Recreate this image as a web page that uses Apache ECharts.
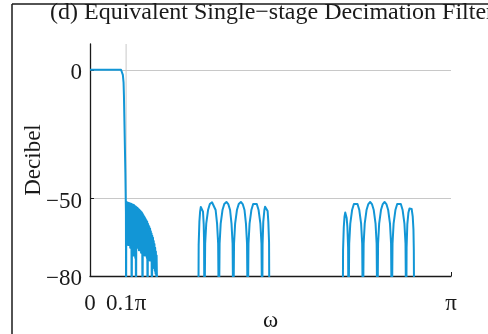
<!DOCTYPE html>
<html>
<head>
<meta charset="utf-8">
<script src="https://cdn.jsdelivr.net/npm/echarts@6/dist/echarts.min.js"></script>
<style>
  html, body { margin: 0; padding: 0; background: #ffffff; }
  #chart { width: 488px; height: 334px; }
</style>
</head>
<body>
<div id="chart"></div>
<script>
// Magnitude response (dB) of the equivalent single-stage decimation filter.
// Frequency is given in units of pi (0 .. 1); values below the -80 dB floor are clipped.

const xTicks = [0, 0.1, 1];
const xTickLabels = ['0', '0.1\u03c0', '\u03c0'];
const yTicks = [-80, -50, 0];
const yTickLabels = ['\u221280', '\u221250', '0'];

// passband and transition edge
const passband = [
  [0, 0], [0.086, 0], [0.089, -0.6], [0.091, -2], [0.093, -5], [0.094, -10],
  [0.096, -25], [0.098, -40], [0.0995, -55], [0.100, -100]
];

// densely rippling first stopband just above 0.1 pi (alternating crest / trough)
const rippleBand = [
  [0.1005, -51.4], [0.1015, -66], [0.1025, -51.4], [0.1035, -67], [0.1045, -51.5], [0.1055, -68],
  [0.1065, -51.6], [0.1075, -67], [0.1085, -51.7], [0.1095, -68], [0.1105, -51.8], [0.1115, -69],
  [0.1125, -51.9], [0.1135, -68], [0.1145, -52.0], [0.1155, -100], [0.1165, -52.2], [0.1175, -71],
  [0.1185, -52.3], [0.1195, -72], [0.1205, -52.4], [0.1215, -71], [0.1225, -52.6], [0.1235, -72],
  [0.1245, -52.8], [0.1255, -73], [0.1265, -53.0], [0.1275, -100], [0.1285, -53.2], [0.1295, -69],
  [0.1305, -53.5], [0.1315, -68], [0.1325, -53.7], [0.1335, -69], [0.1345, -54.0], [0.1355, -70],
  [0.1365, -54.3], [0.1375, -69], [0.1385, -54.6], [0.1395, -70], [0.1405, -54.9], [0.1415, -71],
  [0.1425, -55.2], [0.1435, -70], [0.1445, -55.6], [0.1455, -100], [0.1465, -56.0], [0.1475, -70],
  [0.1485, -56.5], [0.1495, -71], [0.1505, -57.0], [0.1515, -72], [0.1525, -57.5], [0.1535, -71],
  [0.1545, -58.0], [0.1555, -72], [0.1565, -58.5], [0.1575, -73], [0.1585, -59.0], [0.1595, -100],
  [0.1605, -59.7], [0.1615, -72], [0.1625, -60.4], [0.1635, -73], [0.1645, -61.0], [0.1655, -74],
  [0.1665, -61.7], [0.1675, -73], [0.1685, -62.6], [0.1695, -74], [0.1705, -63.5], [0.1715, -100],
  [0.1725, -64.4], [0.1735, -75], [0.1745, -65.2], [0.1755, -76], [0.1765, -66.4], [0.1775, -77],
  [0.1785, -67.6], [0.1795, -78], [0.1805, -69.0], [0.1815, -79], [0.1825, -70.5], [0.1835, -80],
  [0.1845, -72.0], [0.1855, -82], [0.1880, -100]
];

// first group of aliasing lobes
const lobesLow = [
  [0.300, -100], [0.301, -68], [0.303, -59], [0.305, -55], [0.307, -53.2], [0.309, -52.7],
  [0.311, -53.1], [0.313, -55], [0.315, -60], [0.316, -67],
  [0.317, -100], [0.319, -67.5], [0.322, -59.7], [0.327, -54.4], [0.332, -52.1], [0.338, -51.4],
  [0.343, -52.1], [0.348, -54.4], [0.352, -59.7], [0.355, -67.5],
  [0.357, -100], [0.359, -67.5], [0.362, -59.7], [0.367, -54.4], [0.372, -52.1], [0.378, -51.3],
  [0.383, -52.1], [0.388, -54.4], [0.392, -59.7], [0.395, -67.5],
  [0.397, -100], [0.399, -67.5], [0.402, -59.7], [0.407, -54.4], [0.412, -52.1], [0.418, -51.3],
  [0.423, -52.1], [0.428, -54.4], [0.432, -59.7], [0.435, -67.5],
  [0.437, -100], [0.439, -67.5], [0.442, -59.7], [0.447, -54.4], [0.452, -52.1], [0.457, -51.4],
  [0.462, -52.1], [0.467, -54.4], [0.472, -59.7], [0.475, -67.5],
  [0.477, -100], [0.478, -68], [0.480, -59], [0.483, -54.5], [0.485, -53.1], [0.488, -52.7],
  [0.490, -53.1], [0.492, -54.8], [0.494, -59], [0.496, -67], [0.497, -100]
];

// second group of aliasing lobes
const lobesHigh = [
  [0.700, -100], [0.701, -70], [0.703, -61], [0.705, -57], [0.707, -55.4], [0.709, -55.8],
  [0.711, -57.5], [0.713, -61], [0.715, -69],
  [0.716, -100], [0.718, -67.5], [0.721, -59.7], [0.726, -54.4], [0.731, -52.1], [0.736, -51.4],
  [0.741, -52.1], [0.746, -54.4], [0.751, -59.7], [0.754, -67.5],
  [0.756, -100], [0.758, -67.5], [0.761, -59.7], [0.766, -54.4], [0.771, -52.1], [0.776, -51.3],
  [0.781, -52.1], [0.786, -54.4], [0.791, -59.7], [0.794, -67.5],
  [0.796, -100], [0.798, -67.5], [0.801, -59.7], [0.806, -54.4], [0.811, -52.1], [0.816, -51.3],
  [0.821, -52.1], [0.826, -54.4], [0.831, -59.7], [0.834, -67.5],
  [0.836, -100], [0.838, -67.5], [0.841, -59.7], [0.846, -54.4], [0.851, -52.1], [0.856, -51.4],
  [0.861, -52.1], [0.866, -54.4], [0.871, -59.7], [0.874, -67.5],
  [0.876, -100], [0.877, -69], [0.879, -60], [0.882, -55.5], [0.885, -53.8], [0.889, -53.3],
  [0.891, -54], [0.894, -57], [0.896, -62], [0.897, -70], [0.898, -100]
];

// vertical reference line at the passband edge
const edgeLine = [[0.1, -80], [0.1, 10]];

const response = passband.concat(rippleBand, lobesLow, lobesHigh);

const serif = '"Liberation Serif", "Times New Roman", serif';
const ink = '#1a1a1a';
const gridGray = '#c8c8c8';

const chart = echarts.init(document.getElementById('chart'), null, { renderer: 'canvas' });

chart.setOption({
  animation: false,
  backgroundColor: '#ffffff',
  title: {
    text: '(d) Equivalent Single\u2212stage Decimation Filter',
    left: 50,
    top: 1,
    padding: 0,
    textStyle: { fontFamily: serif, fontSize: 24, fontWeight: 'normal', color: ink }
  },
  graphic: [
    { type: 'line', shape: { x1: 12, y1: 4, x2: 488, y2: 4 }, style: { stroke: ink, lineWidth: 1.5 }, silent: true },
    { type: 'line', shape: { x1: 12, y1: 4, x2: 12, y2: 334 }, style: { stroke: ink, lineWidth: 1.5 }, silent: true }
  ],
  grid: { left: 90, right: 37, top: 44, bottom: 58, containLabel: false, outerBoundsMode: 'none' },
  xAxis: {
    type: 'value',
    min: 0,
    max: 1,
    name: '\u03c9',
    nameLocation: 'middle',
    nameGap: 33,
    nameMoveOverlap: false,
    nameTextStyle: { fontFamily: serif, fontSize: 23, color: ink },
    axisLine: { show: true, onZero: false, lineStyle: { color: ink, width: 1.3 } },
    axisTick: { show: true, inside: true, length: 4, customValues: xTicks, lineStyle: { color: ink } },
    axisLabel: {
      customValues: xTicks,
      margin: 16,
      fontFamily: serif,
      fontSize: 23,
      color: ink,
      formatter: function (v) {
        const i = xTicks.findIndex(function (t) { return Math.abs(t - v) < 1e-9; });
        return i >= 0 ? xTickLabels[i] : '';
      }
    },
    splitLine: { show: false }
  },
  yAxis: {
    type: 'value',
    min: -80,
    max: 10,
    name: 'Decibel',
    nameLocation: 'middle',
    nameGap: 45,
    nameMoveOverlap: false,
    nameTextStyle: { fontFamily: serif, fontSize: 23, color: ink },
    axisLine: { show: true, onZero: false, lineStyle: { color: ink, width: 1.3 } },
    axisTick: { show: true, inside: true, length: 4, customValues: yTicks, lineStyle: { color: ink } },
    axisLabel: {
      customValues: yTicks,
      margin: 8,
      color: ink,
      formatter: function (v) {
        const i = yTicks.indexOf(v);
        return i >= 0 ? '{gap|}\n{v|' + yTickLabels[i] + '}' : '';
      },
      rich: {
        gap: { height: 6, lineHeight: 6, fontSize: 6 },
        v: { fontFamily: serif, fontSize: 23, color: ink }
      }
    },
    splitLine: { show: true, lineStyle: { color: gridGray, width: 1 } }
  },
  series: [
    {
      type: 'line',
      data: edgeLine,
      symbol: 'none',
      silent: true,
      z: 1,
      lineStyle: { color: gridGray, width: 1 }
    },
    {
      type: 'line',
      data: response,
      symbol: 'none',
      clip: true,
      z: 3,
      lineStyle: { color: '#1296d6', width: 2, join: 'round' }
    }
  ]
});
</script>
</body>
</html>
